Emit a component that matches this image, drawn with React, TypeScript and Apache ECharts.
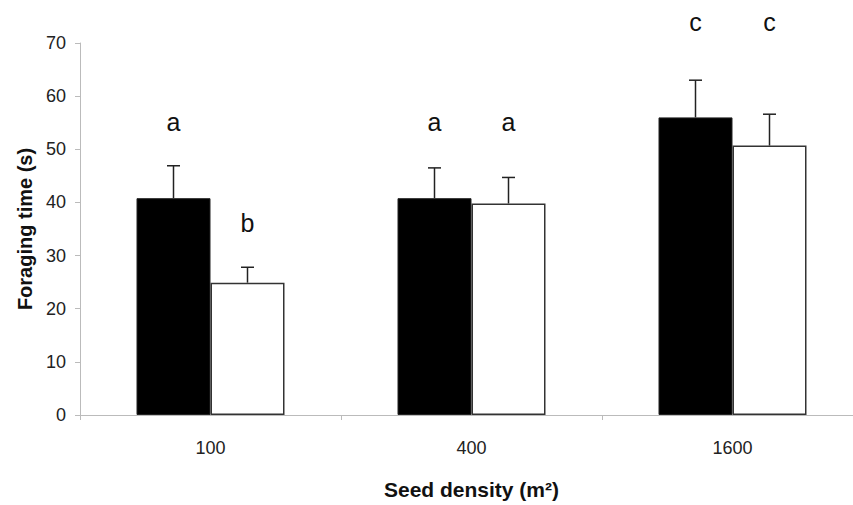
import React, { useEffect, useRef } from "react";
import * as echarts from "echarts";

const categories = ["100", "400", "1600"];
const blackMeans = [40.8, 40.8, 56.0];
const blackErrors = [6.1, 5.7, 7.0];
const whiteMeans = [24.9, 39.8, 50.7];
const whiteErrors = [2.9, 4.9, 5.9];
const blackLetters = ["a", "a", "c"];
const whiteLetters = ["b", "a", "c"];
const blackLetterY = [55.1, 55.1, 74.0];
const whiteLetterY = [36.1, 55.1, 74.0];

const BAR_W = 74;

export default function App() {
  const ref = useRef<HTMLDivElement>(null);
  useEffect(() => {
    if (!ref.current) return;
    const chart = echarts.init(ref.current, null, { renderer: "svg" });
    const errSeries = (means: number[], errs: number[], offset: number) => ({
      type: "custom",
      z: 5,
      data: means.map((m, i) => [i, m, errs[i]]),
      encode: { x: 0, y: 1 },
      renderItem: (params: any, api: any) => {
        const ci = api.value(0);
        const mean = api.value(1);
        const err = api.value(2);
        const base = api.coord([ci, mean]);
        const top = api.coord([ci, mean + err]);
        const x = base[0] + offset;
        const st = { stroke: "#222", lineWidth: 1.5 };
        return {
          type: "group",
          children: [
            { type: "line", shape: { x1: x, y1: base[1], x2: x, y2: top[1] }, style: st },
            { type: "line", shape: { x1: x - 6.5, y1: top[1], x2: x + 6.5, y2: top[1] }, style: st },
          ],
        };
      },
    });
    const letterSeries = (letters: string[], ys: number[], offset: number) => ({
      type: "custom",
      z: 6,
      clip: false,
      data: ys.map((y, i) => [i, y]),
      encode: { x: 0, y: 1 },
      renderItem: (params: any, api: any) => {
        const ci = api.value(0);
        const p = api.coord([ci, api.value(1)]);
        return {
          type: "text",
          x: p[0] + offset,
          y: p[1],
          style: {
            text: letters[params.dataIndex],
            fill: "#111",
            font: "25px 'Liberation Sans', Arial, sans-serif",
            textAlign: "center",
            textVerticalAlign: "middle",
          },
        };
      },
    });
    chart.setOption({
      animation: false,
      backgroundColor: "#fff",
      grid: { left: 80, right: -10, top: 43, bottom: 90, outerBoundsMode: "none", containLabel: false },
      xAxis: {
        type: "category",
        data: categories,
        name: "Seed density (m²)",
        nameLocation: "middle",
        nameGap: 64,
        nameTextStyle: {
          fontFamily: "'Liberation Sans', Arial, sans-serif",
          fontSize: 21,
          fontWeight: "bold",
          color: "#111",
        },
        axisLine: { lineStyle: { color: "#bbb", width: 1 } },
        axisTick: { show: true, length: 5, lineStyle: { color: "#bbb" } },
        axisLabel: {
          margin: 24,
          fontFamily: "'Liberation Sans', Arial, sans-serif",
          fontSize: 18,
          color: "#222",
        },
      },
      yAxis: {
        type: "value",
        min: 0,
        max: 70,
        interval: 10,
        name: "Foraging time (s)",
        nameLocation: "middle",
        nameGap: 42,
        nameTextStyle: {
          fontFamily: "'Liberation Sans', Arial, sans-serif",
          fontSize: 20,
          fontWeight: "bold",
          color: "#111",
        },
        splitLine: { show: false },
        axisLine: { show: true, lineStyle: { color: "#bbb", width: 1 } },
        axisTick: { show: true, length: 5, lineStyle: { color: "#bbb" } },
        axisLabel: {
          margin: 14,
          fontFamily: "'Liberation Sans', Arial, sans-serif",
          fontSize: 18,
          color: "#222",
        },
      },
      series: [
        {
          type: "bar",
          data: blackMeans,
          barWidth: BAR_W,
          barGap: "0%",
          itemStyle: { color: "#000", borderColor: "#222", borderWidth: 1 },
        },
        {
          type: "bar",
          data: whiteMeans,
          barWidth: BAR_W,
          barGap: "0%",
          itemStyle: { color: "#fff", borderColor: "#333", borderWidth: 1.5 },
        },
        errSeries(blackMeans, blackErrors, -BAR_W / 2),
        errSeries(whiteMeans, whiteErrors, BAR_W / 2),
        letterSeries(blackLetters, blackLetterY, -BAR_W / 2),
        letterSeries(whiteLetters, whiteLetterY, BAR_W / 2),
      ],
    });
    return () => chart.dispose();
  }, []);
  return (
    <div
      ref={ref}
      style={{ position: "absolute", left: 0, top: 0, width: 853, height: 505, background: "#fff" }}
    />
  );
}
